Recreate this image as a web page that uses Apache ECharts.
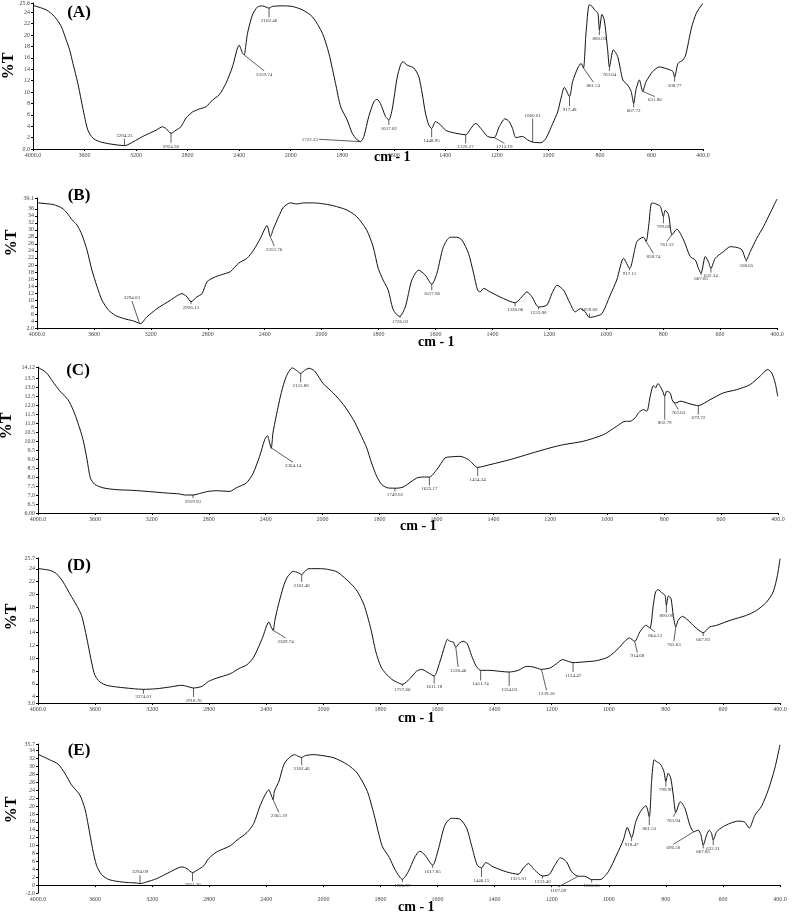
<!DOCTYPE html>
<html><head><meta charset="utf-8">
<script src="https://cdn.jsdelivr.net/npm/echarts@6/dist/echarts.min.js"></script>
<style>html,body{margin:0;padding:0;background:#fff}#c{width:793px;height:913px}</style>
</head><body><div id="c"></div>
<script>
// ---------- DATA ----------
const xTickWavenumbers = [4000,3600,3200,2800,2400,2000,1800,1600,1400,1200,1000,800,600,400];
const xTickLabels = ["4000.0","3600","3200","2800","2400","2000","1800","1600","1400","1200","1000","800","600","400.0"];
const panelNames = ["(A)","(B)","(C)","(D)","(E)"];

const specA = [[4000,25.2],[3987,25.1],[3897,24.4],[3832,23.2],[3781,21.5],[3742,19.1],[3716,17.4],[3690,15.0],[3652,11.5],[3626,8.6],
[3600,5.7],[3574,3.3],[3535,1.9],[3484,1.3],[3406,0.9],[3290,0.6],[3264,0.75],[3148,2.2],[3045,3.3],[2994,3.9],
[2968,3.6],[2929,2.75],[2890,3.3],[2852,3.9],[2813,5.4],[2761,6.5],[2710,7.0],[2658,7.4],[2606,8.6],[2555,9.5],
[2503,11.5],[2452,14.4],[2400,18.2],[2374,16.8],[2361,16.5],[2348,18.2],[2335,20.3],[2297,23.5],[2258,24.9],[2219,25.1],
[2194,24.9],[2168,24.7],[2142,25.0],[2065,25.1],[1994,25.0],[1955,24.4],[1916,23.2],[1877,20.3],[1852,16.8],[1826,11.5],
[1806,7.4],[1781,5.1],[1761,2.75],[1742,1.6],[1729,1.3],[1716,2.2],[1697,5.7],[1677,8.3],[1665,8.7],[1652,8.0],
[1632,5.7],[1619,5.1],[1606,7.0],[1587,12.5],[1574,14.7],[1565,15.3],[1548,14.7],[1522,14.2],[1503,12.7],[1490,9.8],
[1477,6.3],[1464,4.2],[1453,3.6],[1438,4.8],[1418,4.2],[1399,3.3],[1373,2.9],[1321,2.5],[1301,3.6],[1282,4.5],
[1262,3.6],[1236,2.2],[1210,2.0],[1191,3.9],[1168,5.3],[1152,4.8],[1139,3.6],[1126,2.0],[1100,2.2],[1081,1.6],
[1061,1.2],[1029,1.1],[1009,1.9],[983,4.5],[964,6.5],[951,8.9],[938,10.8],[918,9.2],[906,11.8],[886,14.2],
[873,15.0],[864,14.2],[854,20.3],[841,25.3],[830,25.0],[821,24.4],[808,23.8],[802,20.9],[792,23.6],[783,22.6],
[770,17.4],[763,14.4],[748,17.4],[731,16.2],[711,12.1],[692,11.2],[679,10.1],[669,8.0],[660,10.4],[647,12.1],
[634,10.1],[621,11.8],[595,13.6],[569,14.4],[530,13.9],[517,13.6],[510,12.6],[497,15.0],[478,15.6],[467,16.5],
[445,21.2],[426,23.8],[403,25.4],[400,25.5]];

const specB = [[4000,37.8],[3988,37.7],[3883,37.2],[3824,36.2],[3789,34.8],[3754,32.9],[3719,31.4],[3684,28.6],[3649,24.3],[3614,18.5],
[3578,13.8],[3543,9.9],[3497,7.1],[3450,5.6],[3391,4.7],[3321,4.0],[3286,3.4],[3274,3.2],[3227,5.2],[3157,7.5],
[3063,9.9],[2981,11.8],[2946,10.9],[2918,9.5],[2876,10.9],[2840,11.8],[2805,15.2],[2747,16.6],[2688,17.4],[2641,18.1],
[2583,20.5],[2524,21.9],[2477,24.3],[2430,27.6],[2384,31.2],[2360,28.1],[2337,30.5],[2302,33.8],[2267,36.5],[2220,37.7],
[2173,37.4],[2126,37.7],[2056,37.7],[2000,37.5],[1959,36.9],[1912,35.7],[1877,33.8],[1842,30.0],[1819,25.2],[1801,19.0],
[1784,15.7],[1766,12.8],[1750,7.5],[1738,6.0],[1726,5.3],[1706,8.0],[1683,15.7],[1659,18.5],[1636,17.1],[1613,14.5],
[1595,17.6],[1572,25.2],[1548,27.9],[1525,27.9],[1507,27.1],[1484,23.3],[1466,17.6],[1452,12.8],[1443,12.3],[1431,13.3],
[1408,12.3],[1361,10.4],[1320,9.2],[1296,10.9],[1279,12.3],[1261,10.9],[1238,8.0],[1209,8.5],[1191,11.8],[1173,14.2],
[1150,12.8],[1127,9.0],[1109,6.6],[1091,7.5],[1074,6.6],[1059,5.0],[1039,5.3],[1015,6.1],[986,11.4],[963,15.7],
[939,21.9],[918,19.0],[892,26.7],[869,27.9],[860,26.7],[851,31.0],[840,37.7],[828,37.5],[810,36.7],[799,33.8],
[793,35.6],[781,34.3],[769,28.6],[752,30.2],[728,27.1],[705,22.4],[687,21.4],[676,19.0],[667,17.6],[652,22.4],
[641,20.9],[632,19.0],[617,21.9],[588,23.8],[564,25.2],[541,25.0],[523,24.3],[508,21.4],[494,23.8],[471,27.6],
[447,31.0],[424,34.8],[400,38.8]];

const specC = [[4000,14.1],[3993,14.07],[3941,13.8],[3895,13.3],[3848,12.8],[3789,12.3],[3754,11.75],[3719,11.0],[3684,10.1],[3656,9.0],
[3632,7.95],[3602,7.6],[3543,7.4],[3450,7.3],[3333,7.26],[3215,7.19],[3098,7.11],[3005,7.06],[2970,7.0],[2911,7.0],
[2852,7.11],[2805,7.2],[2747,7.24],[2653,7.2],[2607,7.4],[2536,7.67],[2489,8.2],[2443,9.15],[2407,10.08],[2388,10.3],
[2372,9.9],[2361,9.6],[2349,10.45],[2326,11.4],[2290,12.7],[2255,13.6],[2213,14.07],[2185,13.94],[2154,13.76],[2126,13.94],
[2096,14.05],[2056,13.89],[1998,13.2],[1963,12.68],[1927,12.03],[1892,11.19],[1869,10.45],[1845,9.62],[1828,8.78],[1810,8.04],
[1792,7.58],[1769,7.39],[1740,7.38],[1716,7.45],[1669,7.95],[1646,8.0],[1625,8.0],[1599,8.41],[1570,9.06],[1552,9.12],
[1517,9.15],[1488,8.97],[1455,8.54],[1412,8.69],[1341,8.97],[1271,9.3],[1201,9.62],[1154,9.8],[1084,9.99],[1013,10.36],
[967,10.82],[937,11.1],[920,11.1],[902,11.29],[890,11.57],[873,11.75],[861,11.66],[849,12.49],[838,13.09],[830,12.96],
[822,13.2],[814,13.05],[805,12.77],[798,12.49],[791,12.77],[779,12.68],[770,12.22],[758,12.12],[744,12.22],[709,12.07],
[680,11.97],[639,12.3],[592,12.68],[545,12.86],[498,13.14],[463,13.61],[436,13.98],[422,13.79],[410,13.24],[401,12.49]];

const specD = [[4000,24.05],[3993,24.03],[3918,23.77],[3871,23.25],[3824,21.95],[3777,20.1],[3730,18.3],[3695,16.73],[3672,14.64],[3648,12.03],
[3625,9.42],[3601,7.33],[3566,6.29],[3519,5.77],[3449,5.51],[3332,5.24],[3261,5.14],[3168,5.24],[3074,5.51],[2992,5.77],
[2957,5.61],[2910,5.35],[2851,5.61],[2804,6.39],[2746,6.91],[2652,7.59],[2593,8.38],[2535,9.0],[2488,10.2],[2429,13.07],
[2382,15.68],[2366,14.9],[2352,14.38],[2340,15.94],[2316,18.3],[2281,21.16],[2253,22.7],[2211,23.6],[2176,23.4],[2152,23.1],
[2131,23.6],[2101,24.03],[2019,24.03],[1986,23.93],[1951,23.5],[1904,21.7],[1880,20.4],[1857,18.3],[1834,14.64],[1816,10.99],
[1798,8.64],[1781,7.59],[1760,6.7],[1744,6.29],[1723,5.92],[1697,6.81],[1674,7.96],[1656,8.27],[1633,7.75],[1612,7.23],
[1592,9.42],[1574,12.03],[1565,12.97],[1557,12.66],[1545,12.55],[1536,11.77],[1522,12.45],[1510,12.66],[1496,12.29],[1481,10.46],
[1466,8.9],[1449,8.11],[1417,8.11],[1382,7.96],[1349,7.85],[1317,8.11],[1288,8.74],[1265,8.64],[1236,8.27],[1206,8.48],
[1183,9.16],[1162,9.79],[1142,9.52],[1125,9.32],[1090,9.42],[1043,9.63],[1002,10.2],[967,11.51],[944,12.66],[928,13.18],
[909,12.66],[891,14.12],[870,15.16],[856,14.74],[844,18.3],[836,20.38],[827,20.75],[815,20.28],[803,19.86],[798,18.3],
[791,19.76],[782,19.34],[774,16.73],[765,14.9],[757,15.94],[742,16.57],[722,15.94],[698,14.9],[669,14.01],[646,14.9],
[622,15.16],[575,15.94],[517,16.73],[482,17.5],[447,18.8],[424,20.38],[409,22.99],[400,25.6]];

const specE = [[4000,33.2],[3993,33.0],[3918,31.7],[3859,30.6],[3812,28.3],[3766,25.4],[3707,22.8],[3672,19.4],[3648,15.2],[3618,9.3],
[3590,5.0],[3555,2.66],[3508,1.47],[3449,0.97],[3367,0.63],[3308,0.54],[3285,0.37],[3238,0.8],[3168,1.64],[3074,3.34],
[2992,4.61],[2957,4.19],[2917,3.17],[2875,4.0],[2839,4.86],[2804,6.73],[2746,8.42],[2652,9.95],[2605,11.4],[2535,13.3],
[2488,15.6],[2441,20.3],[2382,24.1],[2366,22.8],[2352,21.6],[2343,23.8],[2312,26.2],[2277,30.5],[2241,32.2],[2202,33.0],
[2176,32.6],[2152,32.3],[2124,32.8],[2065,33.0],[1998,32.7],[1963,32.2],[1916,30.5],[1881,28.3],[1846,23.7],[1822,17.7],
[1805,12.7],[1793,9.7],[1769,7.0],[1749,3.9],[1723,1.47],[1703,3.34],[1679,7.15],[1662,8.6],[1644,7.58],[1617,5.03],
[1598,8.85],[1574,15.2],[1551,16.9],[1522,16.7],[1498,14.4],[1481,10.1],[1461,5.03],[1446,4.36],[1431,5.71],[1405,4.61],
[1358,3.34],[1317,2.75],[1300,4.19],[1282,5.46],[1259,3.76],[1232,2.32],[1209,2.66],[1189,5.03],[1169,6.9],[1148,5.88],
[1130,3.34],[1107,2.24],[1084,2.24],[1060,1.39],[1031,1.39],[1002,3.34],[973,7.58],[949,11.4],[935,14.6],[920,12.0],
[905,16.1],[889,18.6],[870,20.1],[858,17.3],[850,26.2],[841,31.7],[833,31.3],[819,30.6],[807,28.8],[800,26.2],
[792,28.3],[783,27.1],[774,22.8],[765,18.4],[749,21.1],[733,19.4],[716,15.2],[702,13.5],[687,13.9],[677,12.7],
[669,10.1],[657,12.7],[648,13.9],[640,13.1],[634,11.4],[622,13.5],[599,14.8],[576,15.6],[546,16.2],[523,15.9],
[508,14.4],[488,17.7],[465,19.9],[441,24.1],[418,29.6],[400,35.5]];

// y-axis ticks and their labels
const yTicksA = [0,2,4,6,8,10,12,14,16,18,20,22,24,25.6];
const yLabelsA = ["0.0","2","4","6","8","10","12","14","16","18","20","22","24","25.6"];
const yTicksB = [2,4,6,8,10,12,14,16,18,20,22,24,26,28,30,32,34,36,38,39.1];
const yLabelsB = ["2.0","4","6","8","10","12","14","16","18","20","22","24","26","28","30","32","34","36","38","39.1"];
const yTicksC = [6,6.5,7,7.5,8,8.5,9,9.5,10,10.5,11,11.5,12,12.5,13,13.5,14.12];
const yLabelsC = ["6.00","6.5","7.0","7.5","8.0","8.5","9.0","9.5","10.0","10.5","11.0","11.5","12.0","12.5","13.0","13.5","14.12"];
const yTicksD = [3,4,6,8,10,12,14,16,18,20,22,24,25.7];
const yLabelsD = ["3.0","4","6","8","10","12","14","16","18","20","22","24","25.7"];
const yTicksE = [-2,0,2,4,6,8,10,12,14,16,18,20,22,24,26,28,30,32,34,35.7];
const yLabelsE = ["-2.0","0","2","4","6","8","10","12","14","16","18","20","22","24","26","28","30","32","34","35.7"];

// peak annotations: [label, anchor wavenumber, anchor %T, leader end wavenumber, leader end %T, side]
const annA = [["3294.23",3290,0.64,3290,1.8,"t"],["2924.36",2929,2.75,2929,1.1,"b"],["2359.74",2361,16.5,2206,13.7,"b"],
["2162.46",2168,24.7,2168,23.1,"b"],["1722.23",1729,1.3,1890,1.7,"l"],["1617.82",1619,5.1,1619,4.2,"b"],
["1448.95",1453,3.6,1453,2.05,"b"],["1320.27",1321,2.5,1321,1.0,"b"],["1212.19",1210,2.0,1171,1.0,"b"],
["1060.01",1061,1.2,1061,5.3,"t"],["917.48",918,9.2,918,7.5,"b"],["861.53",864,14.2,825,11.7,"b"],
["800.03",802,20.9,802,20.0,"b"],["763.64",763,14.4,763,13.7,"b"],["667.72",669,8.0,669,7.3,"b"],
["631.86",634,10.1,587,9.2,"b"],["508.77",510,12.6,510,11.8,"b"]];
const annB = [["3294.03",3279,3.2,3333,9.7,"t"],["2926.13",2918,9.5,2918,8.8,"b"],["2353.76",2361,28.1,2333,25.4,"b"],
["1726.03",1724,5.6,1724,4.9,"b"],["1617.96",1613,14.5,1613,12.8,"b"],["1326.06",1320,9.2,1320,8.2,"b"],
["1233.80",1238,8.0,1238,7.3,"b"],["1059.60",1059,5.0,1059,6.1,"t"],["917.11",918,19.0,918,18.5,"b"],
["858.74",860,26.7,834,23.3,"b"],["799.60",799,33.8,799,31.9,"b"],["761.12",769,28.6,787,26.7,"b"],
["667.85",667,17.6,667,17.1,"b"],["632.34",632,19.0,632,17.8,"b"],["508.65",508,21.4,508,20.9,"b"]];
const annC = [["2919.93",2911,7.0,2911,6.83,"b"],["2364.14",2361,9.62,2208,8.82,"b"],["2155.86",2154,13.76,2154,13.27,"b"],
["1749.02",1746,7.39,1746,7.2,"b"],["1625.17",1625,8.0,1625,7.52,"b"],["1454.34",1455,8.54,1455,8.04,"b"],
["802.79",798,12.49,798,11.19,"b"],["763.63",768,12.22,750,11.75,"b"],["679.72",680,11.97,680,11.47,"b"]];
const annD = [["3274.01",3261,5.14,3261,4.46,"b"],["2918.76",2910,5.35,2910,3.94,"b"],["2369.74",2352,14.38,2265,13.18,"b"],
["2162.46",2152,23.1,2152,21.95,"b"],["1727.66",1723,5.92,1723,5.66,"b"],["1611.18",1612,7.23,1612,6.03,"b"],
["1538.46",1536,11.77,1528,8.64,"b"],["1451.74",1449,8.11,1449,6.55,"b"],["1334.63",1349,7.85,1349,5.66,"b"],
["1239.16",1236,8.27,1218,4.98,"b"],["1124.47",1125,9.32,1125,7.85,"b"],["914.68",909,12.66,900,10.88,"b"],
["864.53",856,14.74,838,14.12,"b"],["800.00",798,18.3,798,17.14,"b"],["763.63",765,14.9,772,12.66,"b"],
["667.93",669,14.01,669,13.49,"b"]];
const annE = [["3294.09",3285,0.37,3285,2.49,"t"],["2924.36",2917,3.17,2917,0.97,"b"],["2365.19",2352,21.6,2312,18.4,"b"],
["2162.46",2152,32.3,2152,30.3,"b"],["1725.97",1723,1.47,1723,0.8,"b"],["1617.85",1617,5.03,1617,4.36,"b"],
["1446.15",1446,4.36,1446,2.07,"b"],["1321.01",1317,2.75,1317,2.49,"b"],["1233.40",1232,2.32,1232,1.64,"b"],
["1107.69",1107,2.24,1177,-0.47,"b"],["1058.55",1060,1.39,1060,0.63,"b"],["918.47",920,12.0,920,11.1,"b"],
["861.53",858,17.3,858,15.2,"b"],["799.90",800,26.2,800,24.9,"b"],["763.94",765,18.4,774,17.3,"b"],
["696.50",702,13.5,774,10.3,"b"],["667.85",669,10.1,669,9.27,"b"],["632.21",634,11.4,634,10.1,"b"]];

// ---------- LAYOUT / STYLE ----------
const layout = [
  {left:33, top:3,   width:670, height:146, nameX:396, nameY:158, tagX:79, tagY:13,  tX:9,  tY:66},
  {left:37, top:198, width:740, height:130, nameX:440, nameY:343, tagX:79, tagY:196, tX:12, tY:243},
  {left:38, top:367, width:740, height:146, nameX:422, nameY:527, tagX:78, tagY:371, tX:7,  tY:426},
  {left:38, top:558, width:742, height:145, nameX:420, nameY:719, tagX:79, tagY:566, tX:12, tY:617},
  {left:38, top:744, width:742, height:149, nameX:420, nameY:908, tagX:79, tagY:751, tX:12, tY:810}
];
const specs = [specA, specB, specC, specD, specE];
const anns = [annA, annB, annC, annD, annE];
const yTicks = [yTicksA, yTicksB, yTicksC, yTicksD, yTicksE];
const yLabels = [yLabelsA, yLabelsB, yLabelsC, yLabelsD, yLabelsE];

// piecewise wavenumber scale (400 cm-1 per division above 2000, 200 below)
const T = w => w >= 2000 ? (4000 - w) / 400 : 5 + (2000 - w) / 200;
const xTickPos = xTickWavenumbers.map(T);
const serif = "'Liberation Serif','DejaVu Serif',serif";
const tickFont = {fontSize: 6, color: '#444', fontFamily: serif};

const grid = [], xAxis = [], yAxis = [], series = [], graphic = [];
layout.forEach((L, k) => {
  grid.push({left: L.left, top: L.top, width: L.width, height: L.height});
  xAxis.push({
    type: 'value', gridIndex: k, min: 0, max: 13, interval: 1,
    axisLine: {lineStyle: {color: '#000', width: 1}},
    axisTick: {show: true, length: 2, lineStyle: {color: '#000'}},
    splitLine: {show: false},
    axisLabel: Object.assign({margin: 3, showMinLabel: true, showMaxLabel: true,
      formatter: v => { const i = xTickPos.findIndex(p => Math.abs(p - v) < 1e-6); return i >= 0 ? xTickLabels[i] : ''; }}, tickFont)
  });
  const tk = yTicks[k], lb = yLabels[k];
  yAxis.push({
    type: 'value', gridIndex: k, min: tk[0], max: tk[tk.length - 1],
    axisLine: {show: true, lineStyle: {color: '#000', width: 1}},
    axisTick: {show: true, length: 2, customValues: tk, lineStyle: {color: '#000'}},
    splitLine: {show: false},
    axisLabel: Object.assign({margin: 3, customValues: tk, showMinLabel: true, showMaxLabel: true,
      formatter: v => { const i = tk.findIndex(p => Math.abs(p - v) < 1e-6); return i >= 0 ? lb[i] : ''; }}, tickFont)
  });
  series.push({
    type: 'line', xAxisIndex: k, yAxisIndex: k, showSymbol: false, smooth: 0.25,
    data: specs[k].map(p => [T(p[0]), p[1]]),
    lineStyle: {color: '#111', width: 1}, silent: true, animation: false
  });
  const ann = anns[k];
  series.push({
    type: 'custom', xAxisIndex: k, yAxisIndex: k, animation: false, silent: true,
    data: ann.map(a => [T(a[1]), a[2], T(a[3]), a[4]]),
    encode: {x: [0, 2], y: [1, 3]},
    renderItem: (params, api) => {
      const a = ann[params.dataIndex];
      const p0 = api.coord([api.value(0), api.value(1)]);
      const p1 = api.coord([api.value(2), api.value(3)]);
      let tx = p1[0], ty = p1[1], align = 'center', va = 'top';
      if (a[5] === 'b') { ty = p1[1] + 1; }
      else if (a[5] === 't') { ty = p1[1] - 1; va = 'bottom'; }
      else { tx = p1[0] - 1; align = 'right'; va = 'middle'; }
      return {type: 'group', children: [
        {type: 'line', shape: {x1: p0[0], y1: p0[1], x2: p1[0], y2: p1[1]}, style: {stroke: '#333', lineWidth: 0.8}},
        {type: 'text', style: {text: a[0], x: tx, y: ty, align: align, verticalAlign: va,
          fontSize: 5, fill: '#333', fontFamily: serif}}
      ]};
    }
  });
  graphic.push({type: 'text', left: L.nameX - 22, top: L.nameY - 8,
    style: {text: 'cm - 1', font: 'bold 14px ' + serif, fill: '#000'}});
  graphic.push({type: 'text', x: L.tagX, y: L.tagY,
    style: {text: panelNames[k], font: 'bold 17px ' + serif, fill: '#000', align: 'center', verticalAlign: 'middle'}});
  graphic.push({type: 'text', x: L.tX, y: L.tY, rotation: Math.PI / 2,
    style: {text: '%T', font: 'bold 16px ' + serif, fill: '#000', align: 'center', verticalAlign: 'middle'}});
});

const chart = echarts.init(document.getElementById('c'), null, {renderer: 'canvas'});
chart.setOption({animation: false, backgroundColor: '#fff', grid, xAxis, yAxis, series, graphic});
</script>
</body></html>
